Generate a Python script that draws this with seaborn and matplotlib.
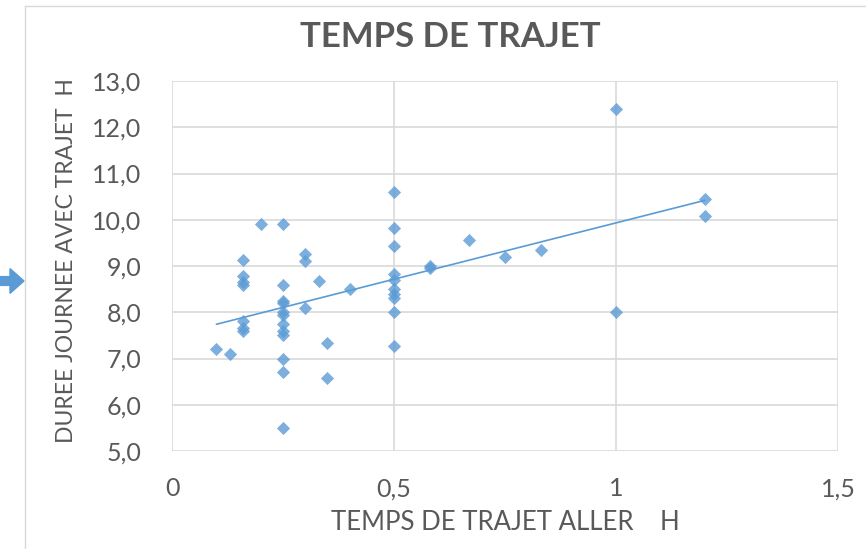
import numpy as np
import pandas as pd
from matplotlib import pyplot as plt
from matplotlib.patches import FancyArrow
import seaborn as sns

# valeurs
temps_aller = [0.10, 0.13,
               0.16, 0.16, 0.16, 0.16, 0.16, 0.16, 0.16,
               0.20,
               0.25, 0.25, 0.25, 0.25, 0.25, 0.25, 0.25, 0.25, 0.25, 0.25, 0.25, 0.25,
               0.30, 0.30, 0.30,
               0.33,
               0.35, 0.35,
               0.40,
               0.50, 0.50, 0.50, 0.50, 0.50, 0.50, 0.50, 0.50, 0.50, 0.50,
               0.58, 0.58,
               0.67, 0.75, 0.83,
               1.00, 1.00,
               1.20, 1.20]
duree_journee = [7.2, 7.1,
                 9.13, 8.78, 8.65, 8.6, 7.82, 7.65, 7.6,
                 9.9,
                 9.9, 8.6, 8.25, 8.2, 8.0, 7.95, 7.75, 7.6, 7.5, 7.0, 6.7, 5.5,
                 9.27, 9.1, 8.1,
                 8.67,
                 7.33, 6.57,
                 8.5,
                 10.6, 9.83, 9.43, 8.82, 8.7, 8.5, 8.4, 8.3, 8.0, 7.28,
                 9.0, 8.95,
                 9.57, 9.2, 9.35,
                 12.4, 8.0,
                 10.45, 10.08]

x_ticks = [0, 0.5, 1, 1.5]
x_labels = ["0", "0,5", "1", "1,5"]
y_ticks = [5, 6, 7, 8, 9, 10, 11, 12, 13]

df = pd.DataFrame({"aller": temps_aller, "duree": duree_journee})

sns.set_style("white")
plt.rcParams['font.family'] = ['Lato', 'DejaVu Sans']
gris = "#595959"
bleu = "#5b9bd5"

fig = plt.figure(figsize=(8.66, 5.49), dpi=100)
ax = fig.add_axes([172 / 866, 1 - 451 / 549, (838 - 172) / 866, (451 - 81) / 549])

sns.regplot(data=df, x="aller", y="duree", ax=ax, ci=None, truncate=True,
            marker="D",
            scatter_kws={"s": 45, "color": bleu, "linewidths": 0, "zorder": 3},
            line_kws={"color": bleu, "linewidth": 1.2, "zorder": 2})

ax.set_xlim(0, 1.5)
ax.set_ylim(5, 13)
ax.set_xticks(x_ticks)
ax.set_xticklabels(x_labels)
ax.set_yticks(y_ticks)
ax.set_yticklabels([f"{v:.1f}".replace(".", ",") for v in y_ticks])
ax.grid(True, color="#d9d9d9", linewidth=1.2)
ax.set_axisbelow(True)
for s in ax.spines.values():
    s.set_visible(False)
ax.tick_params(length=0, labelsize=18, colors=gris)
ax.tick_params(axis="y", pad=22)
ax.tick_params(axis="x", pad=19)

ax.set_xlabel("TEMPS DE TRAJET ALLER    H", fontsize=18.5, color=gris)
ax.set_ylabel("DUREE JOURNEE AVEC TRAJET  H", fontsize=16.5, color=gris)
ax.xaxis.set_label_coords(0.5, -(522 - 451) / (451 - 81), transform=ax.transAxes)
ax.xaxis.label.set_va("center")
ax.yaxis.set_label_coords(-(172 - 67) / (838 - 172), 0.5 + 5 / 370, transform=ax.transAxes)
ax.yaxis.label.set_va("center")
fig.text(0.52, 1 - 37 / 549, "TEMPS DE TRAJET", ha="center", va="center",
         fontsize=25, fontweight="bold", color=gris)

# bord du cadre et fleche a gauche
fig.add_artist(plt.Line2D([25 / 866, 25 / 866], [0, 1 - 6 / 549], color="#d9d9d9", lw=1))
fig.add_artist(plt.Line2D([25 / 866, 1], [1 - 6 / 549, 1 - 6 / 549], color="#d9d9d9", lw=1))
fig.add_artist(FancyArrow(0, 1 - 281 / 549, 10 / 866, 0, width=0.016,
                          head_width=0.045, head_length=14 / 866,
                          length_includes_head=False, color=bleu,
                          transform=fig.transFigure))

fig.savefig("out.png", dpi=100)
